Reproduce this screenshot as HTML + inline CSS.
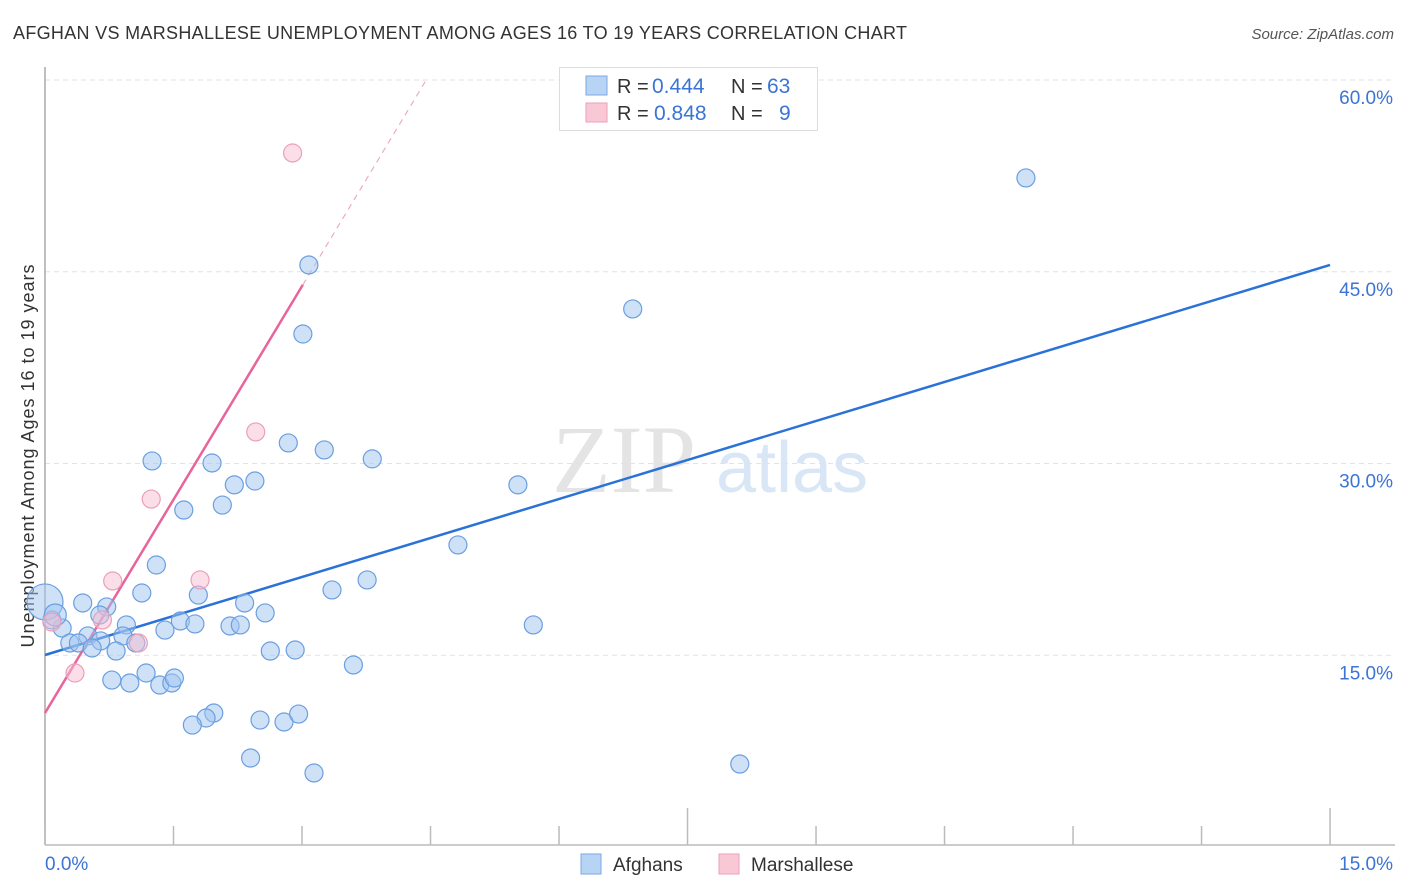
<!DOCTYPE html>
<html><head><meta charset="utf-8"><style>
body{margin:0;background:#fff;font-family:"Liberation Sans",sans-serif;}
svg{display:block}
</style></head><body>
<svg id="chart" width="1406" height="892">
<text x="13" y="39" font-size="18" fill="#333" textLength="894">AFGHAN VS MARSHALLESE UNEMPLOYMENT AMONG AGES 16 TO 19 YEARS CORRELATION CHART</text>
<text x="1394" y="39" font-size="15" fill="#555" font-style="italic" text-anchor="end">Source: ZipAtlas.com</text>
<text x="34" y="456" font-size="18" fill="#333" text-anchor="middle" textLength="383" transform="rotate(-90 34 456)">Unemployment Among Ages 16 to 19 years</text>
<g>
<text x="552" y="492" font-size="96" fill="#e4e4e4" font-family="Liberation Serif,serif">ZIP</text>
<text x="716" y="492" font-size="72" fill="#d8e6f6">atlas</text>
</g>
<g id="grid"></g>
<g id="axes"></g>
<g id="lines"></g>
<g id="points"></g>
<g>
<rect x="559.5" y="67.5" width="258" height="63" fill="#fff" stroke="#ddd"/>
<rect x="586" y="76" width="21" height="19" fill="#b8d4f5" stroke="#7aa8e6"/>
<text x="617" y="93" font-size="20" fill="#333">R = <tspan x="652" fill="#3b74d4" font-size="21">0.444</tspan><tspan x="731">N = </tspan><tspan x="767" fill="#3b74d4" font-size="21">63</tspan></text>
<rect x="586" y="103" width="21" height="19" fill="#f9c8d6" stroke="#eaa0b8"/>
<text x="617" y="120" font-size="20" fill="#333">R = <tspan x="654" fill="#3b74d4" font-size="21">0.848</tspan><tspan x="731">N = </tspan><tspan x="779" fill="#3b74d4" font-size="21">9</tspan></text>
</g>
<g>
<rect x="581" y="854" width="20" height="20" fill="#b8d4f5" stroke="#7aa8e6"/>
<text x="613" y="871" font-size="19" fill="#333">Afghans</text>
<rect x="719" y="854" width="20" height="20" fill="#f9c8d6" stroke="#eaa0b8"/>
<text x="751" y="871" font-size="19" fill="#333">Marshallese</text>
</g>
</svg>
<script>
const yTicks=[15,30,45,60];
const yTickLabels=["15.0%","30.0%","45.0%","60.0%"];
const xTickLabels=["0.0%","15.0%"];
const afghanX=[11.45,6.86,3.08,3.01,2.84,3.26,3.82,5.52,1.25,1.95,2.21,2.45,1.62,2.07,4.82,1.30,3.76,3.35,1.13,1.79,2.33,0.44,0.72,2.57,1.58,1.75,2.16,2.28,0.95,1.40,5.70,0.20,0.08,0.50,0.91,1.06,0.29,0.39,0.65,0.55,0.83,2.63,2.92,3.60,1.18,0.78,0.99,1.34,1.48,1.51,1.97,1.88,1.72,2.51,2.79,2.96,2.40,3.14,8.11,0.00,0.12,0.64];
const afghanY=[52.34,42.09,45.53,40.13,31.61,31.06,30.36,28.33,30.20,30.04,28.33,28.63,26.36,26.75,23.63,22.06,20.89,20.11,19.87,19.71,19.09,19.09,18.78,18.31,17.68,17.45,17.29,17.37,17.37,16.97,17.37,17.13,17.76,16.51,16.51,15.96,15.96,15.96,16.12,15.57,15.33,15.33,15.41,14.24,13.61,13.06,12.83,12.67,12.83,13.22,10.48,10.09,9.54,9.93,9.78,10.40,6.96,5.79,6.49,19.17,18.15,18.15];
const afghanR=[9,9,9,9,9,9,9,9,9,9,9,9,9,9,9,9,9,9,9,9,9,9,9,9,9,9,9,9,9,9,9,9,9,9,9,9,9,9,9,9,9,9,9,9,9,9,9,9,9,9,9,9,9,9,9,9,9,9,9,18,11,9];
const marshX=[2.89,2.46,1.24,0.79,1.81,1.09,0.35,0.67,0.08];
const marshY=[54.29,32.47,27.22,20.81,20.89,15.96,13.61,17.76,17.60];
const blueTrend=[15.02,45.53];
const pinkTrend=[10.48,11.13];
const X=v=>45+v*85.67, Y=v=>847-v*191.75/15;
const NS="http://www.w3.org/2000/svg";
function mk(tag,attrs,parent){const e=document.createElementNS(NS,tag);for(const k in attrs)e.setAttribute(k,attrs[k]);document.getElementById(parent).appendChild(e);return e;}
yTicks.forEach((t,i)=>{
 const l=mk('line',{x1:45,x2:1395,y1:Y(t),y2:Y(t),stroke:'#e2e2e2','stroke-dasharray':'5,4'},'grid');
 
 
 const tx=mk('text',{x:1393,y:Y(t)+24,'font-size':19,fill:'#3b74d4','text-anchor':'end'},'grid');
 tx.textContent=yTickLabels[i];
 
 
});
const ya=mk('line',{x1:45,x2:45,y1:67,y2:845,stroke:'#aaa','stroke-width':1.5},'axes');


const xa=mk('line',{x1:45,x2:1395,y1:845,y2:845,stroke:'#bbb','stroke-width':1.5},'axes');


for(let i=0;i<=10;i++){
 const v=i*1.5;
 const tk=mk('line',{x1:X(v),x2:X(v),y1:(i==5||i==10)?808:826,y2:845,stroke:'#bbb','stroke-width':1.5},'axes');
 
 
}
[[0,'start',45],[15,'end',1393]].forEach((a,i)=>{
 const tx=mk('text',{x:a[2],y:870,'font-size':19,fill:'#3b74d4','text-anchor':a[1]},'axes');
 tx.textContent=xTickLabels[i];
 
 
});
const bl=mk('line',{x1:X(0),y1:Y(blueTrend[0]),x2:X(15),y2:Y(blueTrend[1]),stroke:'#2a72d8','stroke-width':2.5},'lines');


const xs=3.01, xe=(60-pinkTrend[0])/pinkTrend[1];
const pl=mk('line',{x1:X(0),y1:Y(pinkTrend[0]),x2:X(xs),y2:Y(pinkTrend[0]+pinkTrend[1]*xs),stroke:'#e8649a','stroke-width':2.5},'lines');


const pd=mk('line',{x1:X(xs),y1:Y(pinkTrend[0]+pinkTrend[1]*xs),x2:X(xe),y2:Y(60),stroke:'#eeaac4','stroke-width':1.2,'stroke-dasharray':'6,5'},'lines');


afghanX.forEach((v,i)=>{
 const c=mk('circle',{cx:X(v),cy:Y(afghanY[i]),r:afghanR[i],fill:'rgba(160,196,240,0.5)',stroke:'#6a9fe0','stroke-width':1.2},'points');
 
 
});
marshX.forEach((v,i)=>{
 const c=mk('circle',{cx:X(v),cy:Y(marshY[i]),r:9,fill:'rgba(248,190,210,0.5)',stroke:'#eaa0b8','stroke-width':1.2},'points');
 
 
});
</script>
</body></html>
